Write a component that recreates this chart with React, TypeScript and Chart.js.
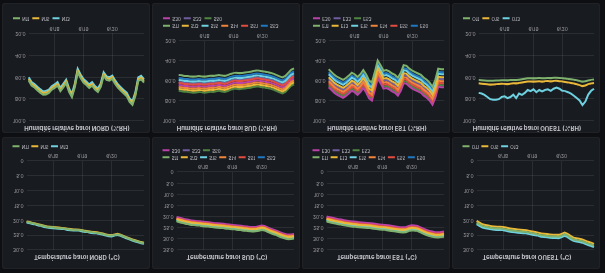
import React, { useEffect, useRef } from 'react';
import { Chart, registerables } from 'chart.js';
Chart.register(...registerables);

// ---------- axis / category data ----------
const DAY_LABELS = ['6/18', '6/19', '6/20'];
const DAY_START_INDEX = [9, 19, 29];
const POINT_COUNT = 41;

// ---------- humidity (%RH) ----------
const NORD_HUM_N11 = [63.1,67.6,69.5,71.9,74.3,76.2,75.9,74.5,71.5,69.8,67.8,72.9,69.4,65.6,73.5,78.4,69.2,55.6,60.7,64.9,67.2,69.8,67.9,71.4,73.6,68.8,58.7,62.5,63.3,61.7,66.3,69.9,72.6,75.1,77.4,82.6,85.3,77.2,63.5,62.0,65.0];
const NORD_HUM_N15 = [61.7,66.0,67.9,70.3,72.7,74.6,74.3,73.0,69.9,68.2,66.2,71.3,67.8,64.0,71.9,76.8,67.7,54.0,59.1,63.3,65.7,68.1,66.3,69.8,72.1,67.2,57.2,60.8,61.8,60.1,64.7,68.2,71.1,73.5,75.9,81.0,83.8,75.6,62.0,60.4,63.5];
const NORD_HUM_N13 = [60.0,64.5,66.2,68.8,71.0,73.1,72.6,71.4,68.3,66.7,64.5,69.8,66.1,62.4,70.3,75.2,66.0,52.3,57.5,61.8,64.0,66.6,64.6,68.2,70.4,65.7,55.5,59.3,60.1,58.6,63.0,66.7,69.4,72.0,74.2,79.5,82.1,74.0,60.3,58.8,61.9];

const SUD_HUM_BASE = [62.0,62.4,63.0,63.2,63.5,63.8,63.6,63.2,63.5,63.9,63.4,62.8,63.0,62.5,62.0,62.7,63.0,62.2,61.0,60.2,59.8,60.3,60.0,59.6,59.2,58.8,58.0,57.6,57.9,58.4,58.8,59.3,60.0,61.0,62.2,63.5,64.5,63.0,60.0,57.0,55.5];
const SUD_HUM_LEVEL = [-8, 6, -3, 4, 0, -5, 2, -1, 8];

const EST_HUM_BASE = [60.4,63.2,66.0,68.1,69.5,70.9,69.1,66.7,63.9,65.3,68.1,65.3,61.1,65.6,71.6,73.7,63.2,51.6,56.2,61.8,61.1,62.5,64.6,66.0,68.8,63.9,56.2,56.9,59.7,61.8,63.2,64.6,66.0,68.8,70.9,73.7,77.9,70.9,59.7,60.4,60.4];
const EST_HUM_LEVEL = [-12, -4, -7, 0, 2, -9, 6, -2, 4];

const OUEST_HUM_O11 = [62.5,62.8,63.0,63.2,63.4,63.3,63.1,63.0,62.8,62.9,63.0,62.7,62.5,62.6,62.3,61.9,61.5,61.0,60.9,61.2,61.0,60.8,61.1,60.9,60.7,61.0,60.6,60.5,60.8,61.0,61.3,61.6,62.0,62.4,62.9,63.5,64.2,63.8,63.0,62.5,62.2];
const OUEST_HUM_O15 = [65.6,66.0,66.3,66.6,66.9,66.8,66.5,66.3,66.1,66.2,66.4,66.0,65.7,65.9,65.4,65.0,64.5,64.0,63.9,64.2,64.0,63.7,64.1,63.8,63.6,63.9,63.5,63.3,63.7,64.0,64.4,64.8,65.3,65.8,66.5,67.3,68.2,67.6,66.4,65.8,65.4];
const OUEST_HUM_O13 = [74.4,75.0,76.3,78.2,80.2,80.8,80.8,80.2,78.2,77.6,79.2,78.2,76.0,79.2,75.0,76.3,74.4,71.8,72.8,71.2,73.8,71.8,73.1,71.8,71.2,72.5,70.6,69.6,70.6,72.5,72.8,73.8,75.0,77.0,79.2,81.4,85.6,82.4,76.0,72.5,70.6];

// ---------- temperature (°C) ----------
const NORD_TEMP_N11 = [20.6,20.8,21.0,21.3,21.5,21.8,22.0,22.3,22.4,22.4,22.6,22.7,22.7,22.9,23.0,23.2,23.2,23.3,23.4,23.5,23.8,23.9,24.0,24.2,24.3,24.4,24.7,24.9,25.2,25.2,25.0,24.8,25.0,25.5,25.8,26.3,26.6,27.0,27.2,27.6,27.7];
const NORD_TEMP_N15 = [20.4,20.6,20.9,21.1,21.4,21.6,21.9,22.1,22.2,22.3,22.4,22.5,22.6,22.7,22.9,23.0,23.1,23.1,23.2,23.4,23.6,23.7,23.9,24.0,24.1,24.3,24.5,24.8,25.0,25.1,24.8,24.6,24.9,25.3,25.7,26.1,26.5,26.8,27.1,27.4,27.6];
const NORD_TEMP_N13 = [20.8,21.0,21.3,21.5,21.8,22.0,22.3,22.5,22.6,22.7,22.8,22.9,23.0,23.1,23.3,23.4,23.5,23.5,23.6,23.8,24.0,24.1,24.3,24.4,24.5,24.7,24.9,25.2,25.4,25.5,25.2,25.0,25.3,25.7,26.1,26.5,26.9,27.2,27.5,27.8,28.0];

const SUD_TEMP_BASE = [21.2,21.6,21.9,22.3,22.5,22.8,22.9,23.1,23.2,23.4,23.5,23.6,23.8,24.0,24.1,24.2,24.3,24.5,24.6,24.8,24.9,25.1,25.2,25.4,25.5,25.7,25.8,25.7,25.4,25.1,25.3,25.9,26.5,27.0,27.4,28.0,28.5,28.9,29.2,29.1,28.9];
const SUD_TEMP_LEVEL = [1.0, 0, 0.5, -0.2, -0.4, 0.2, -1.0, -0.7, 0.8];

const EST_TEMP_BASE = [21.2,21.5,21.8,22.1,22.4,22.6,22.9,23.1,23.3,23.5,23.6,23.8,23.9,24.0,24.1,24.2,24.4,24.6,24.8,24.9,25.0,25.2,25.4,25.6,25.8,26.0,26.1,26.0,25.5,25.2,25.3,25.5,26.1,26.7,27.3,27.7,28.0,28.3,28.4,28.2,28.0];
const EST_TEMP_LEVEL = [1.1, 0, 0.5, -0.2, -0.5, 0.2, -1.2, -0.8, 0.8];

const OUEST_TEMP_O11 = [20.8,21.4,22.0,22.2,22.4,22.6,22.7,22.8,22.8,22.9,23.1,23.3,23.5,23.6,23.7,23.8,23.9,24.0,24.2,24.4,24.6,24.8,25.1,25.2,25.3,25.4,25.5,25.5,25.6,25.2,24.8,25.2,25.9,26.5,26.7,26.9,27.1,27.5,27.9,28.2,28.6];
const OUEST_TEMP_O15 = [20.2,20.8,21.4,21.6,21.8,22.0,22.1,22.2,22.2,22.3,22.5,22.7,22.9,23.0,23.1,23.2,23.3,23.4,23.6,23.8,24.0,24.2,24.5,24.6,24.7,24.8,24.9,24.9,25.0,24.6,24.2,24.6,25.3,25.9,26.1,26.3,26.5,26.9,27.3,27.6,28.0];
const OUEST_TEMP_O13 = [21.3,21.9,22.5,22.7,22.9,23.1,23.2,23.3,23.3,23.4,23.6,23.8,24.0,24.1,24.2,24.3,24.4,24.5,24.7,24.9,25.1,25.3,25.6,25.7,25.8,25.9,26.0,26.0,26.1,25.7,25.3,25.7,26.4,27.0,27.2,27.4,27.6,28.0,28.4,28.7,29.1];

// ---------- names / colours ----------
const NORD_NAMES = ['N11', 'N15', 'N13'];
const OUEST_NAMES = ['O11', 'O15', 'O13'];
const SUD_NAMES = ['S11', 'S13', 'S15', 'S14', 'S51', 'S53', 'S30', 'S33', 'S50'];
const EST_NAMES = ['E11', 'E13', 'E15', 'E14', 'E55', 'E50', 'E30', 'E33', 'E53'];
const PALETTE = ['#7EB26D', '#EAB839', '#6ED0E0', '#EF843C', '#E24D42', '#1F78C1', '#BA43A9', '#705DA0', '#508642'];

const HUM_TICKS = { min: 20, max: 100, step: 20 };
const TEMP_TICKS_30 = { min: 0, max: 30, step: 5 };
const TEMP_TICKS_35 = { min: 0, max: 35, step: 5 };

const categories: string[] = Array.from({ length: POINT_COUNT }, (_, i) => {
  const k = DAY_START_INDEX.indexOf(i);
  return k >= 0 ? DAY_LABELS[k] : '';
});

const shifted = (base: number[], level: number) => base.map((v) => +(v + level).toFixed(2));

type PanelCfg = {
  title: string;
  names: string[];
  series: number[][];
  ticks: { min: number; max: number; step: number };
  row: 0 | 1;
  col: number;
};

const PANELS: PanelCfg[] = [
  { title: 'Température paroi NORD (°C)', names: NORD_NAMES, series: [NORD_TEMP_N11, NORD_TEMP_N15, NORD_TEMP_N13], ticks: TEMP_TICKS_30, row: 0, col: 0 },
  { title: 'Température paroi SUD (°C)', names: SUD_NAMES, series: SUD_TEMP_LEVEL.map((l) => shifted(SUD_TEMP_BASE, l)), ticks: TEMP_TICKS_35, row: 0, col: 1 },
  { title: 'Température paroi EST (°C)', names: EST_NAMES, series: EST_TEMP_LEVEL.map((l) => shifted(EST_TEMP_BASE, l)), ticks: TEMP_TICKS_35, row: 0, col: 2 },
  { title: 'Température paroi OUEST (°C)', names: OUEST_NAMES, series: [OUEST_TEMP_O11, OUEST_TEMP_O15, OUEST_TEMP_O13], ticks: TEMP_TICKS_30, row: 0, col: 3 },
  { title: 'Humidité relative paroi NORD (%RH)', names: NORD_NAMES, series: [NORD_HUM_N11, NORD_HUM_N15, NORD_HUM_N13], ticks: HUM_TICKS, row: 1, col: 0 },
  { title: 'Humidité relative paroi SUD (%RH)', names: SUD_NAMES, series: SUD_HUM_LEVEL.map((l) => shifted(SUD_HUM_BASE, l)), ticks: HUM_TICKS, row: 1, col: 1 },
  { title: 'Humidité relative paroi EST (%RH)', names: EST_NAMES, series: EST_HUM_LEVEL.map((l) => shifted(EST_HUM_BASE, l)), ticks: HUM_TICKS, row: 1, col: 2 },
  { title: 'Humidité relative paroi OUEST (%RH)', names: OUEST_NAMES, series: [OUEST_HUM_O11, OUEST_HUM_O15, OUEST_HUM_O13], ticks: HUM_TICKS, row: 1, col: 3 },
];

const FONT = 'Inter, "Noto Sans", sans-serif';
const GRID = 'rgba(204,204,220,0.10)';
const TEXT = '#c4c4cc';
const TICK = '#9a9aa2';

const PANEL_W = 148;
const ROW_TOP = [4, 140];
const ROW_H = [132, 130];

function Panel({ cfg }: { cfg: PanelCfg }) {
  const ref = useRef<HTMLCanvasElement>(null);
  const w = PANEL_W;
  const h = ROW_H[cfg.row];
  const temp = cfg.row === 0;
  const many = cfg.series.length > 3;
  const padBottom = temp ? (many ? 0 : -4) : 2;
  useEffect(() => {
    const chart = new Chart(ref.current!, {
      type: 'line',
      data: {
        labels: categories,
        datasets: cfg.series.map((d, i) => ({
          label: cfg.names[i],
          data: d,
          borderColor: PALETTE[i],
          backgroundColor: PALETTE[i],
          borderWidth: 2,
          pointRadius: 0,
          tension: 0,
        })),
      },
      options: {
        responsive: false,
        animation: false,
        layout: { padding: { top: temp ? 8 : 1, left: 7, right: 5, bottom: padBottom } },
        plugins: {
          title: {
            display: true,
            text: cfg.title,
            color: TEXT,
            font: { size: 6, family: FONT },
            padding: { top: 0, bottom: 3 },
          },
          legend: {
            display: true,
            position: 'bottom',
            align: 'start',
            labels: {
              usePointStyle: true,
              pointStyle: 'line',
              pointStyleWidth: 7,
              boxHeight: 4,
              color: TEXT,
              font: { size: 4.5, family: FONT },
              padding: temp ? 2.5 : 3,
            },
          },
          tooltip: { enabled: false },
        },
        scales: {
          x: {
            type: 'category',
            grid: {
              color: (ctx: any) => (ctx.tick && ctx.tick.label ? GRID : 'transparent'),
              drawTicks: false,
            },
            border: { display: false },
            ticks: {
              autoSkip: false,
              maxRotation: 0,
              color: TICK,
              padding: 2,
              font: { size: 5, family: FONT },
            },
          },
          y: {
            min: cfg.ticks.min,
            max: cfg.ticks.max,
            grid: { color: GRID, drawTicks: false },
            border: { display: false },
            ticks: {
              stepSize: cfg.ticks.step,
              color: TICK,
              padding: 3,
              font: { size: 5, family: FONT },
              callback: (v: any) => (Number(v) === 0 ? '0' : Number(v).toFixed(1)),
            },
          },
        },
      },
    });
    return () => chart.destroy();
  }, []);
  return (
    <div
      style={{
        position: 'absolute',
        left: 2 + cfg.col * 150,
        top: ROW_TOP[cfg.row],
        width: w,
        height: h,
        background: '#181b1f',
        border: '1px solid #202226',
        boxSizing: 'border-box',
        borderRadius: 2,
        overflow: 'hidden',
      }}
    >
      <canvas ref={ref} width={w - 2} height={h - 2} style={{ display: 'block' }} />
    </div>
  );
}

export default function App() {
  useEffect(() => {
    document.body.style.margin = '0';
    document.body.style.background = '#0e0f12';
  }, []);
  return (
    <div
      style={{
        position: 'relative',
        width: 605,
        height: 273,
        background: '#0e0f12',
        overflow: 'hidden',
        transform: 'scaleY(-1)',
        filter: 'blur(0.3px)',
      }}
    >
      {PANELS.map((p, i) => (
        <Panel key={i} cfg={p} />
      ))}
    </div>
  );
}
